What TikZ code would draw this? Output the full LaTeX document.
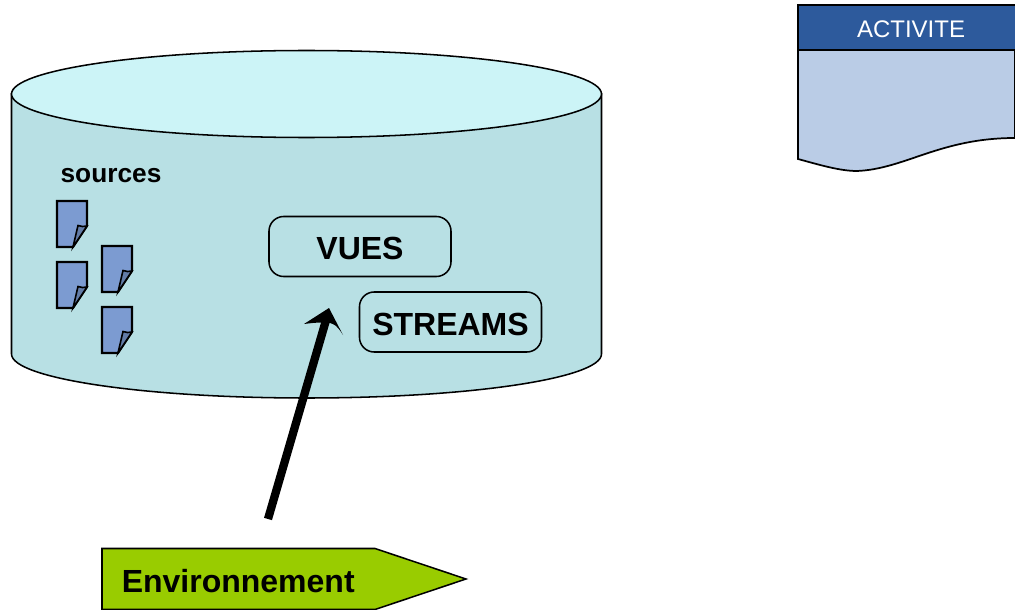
\documentclass[tikz,border=0pt]{standalone}
\usepackage{fontspec}
\setmainfont{Liberation Sans}
\begin{document}
\begin{tikzpicture}[x=0.75pt,y=-0.75pt,
  outline/.style={draw=black,line width=1.15pt},
  labelbox/.style={outline,fill=cylbody,rounded corners=11pt,font=\bfseries\fontsize{24}{28}\selectfont,inner sep=0pt,text=black,text height=20pt,text depth=0pt},
  pagefill/.style={outline,line width=1.6pt,fill=pageblue},
  pagefold/.style={outline,line width=1.2pt,fill=foldblue}]
\definecolor{cylbody}{RGB}{184,224,228}
\definecolor{cyltop}{RGB}{204,244,247}
\definecolor{pageblue}{RGB}{124,155,209}
\definecolor{foldblue}{RGB}{99,124,167}
\definecolor{headblue}{RGB}{45,90,156}
\definecolor{docblue}{RGB}{186,204,230}
\definecolor{envgreen}{RGB}{153,204,0}
\useasboundingbox (0,0) rectangle (1015,610);
\clip (0,0) rectangle (1015,610);
% cylinder
\path[outline,fill=cylbody] (11.5,94) -- (11.5,354) arc[start angle=180,end angle=360,x radius=295,y radius=-44] -- (601.5,94) -- cycle;
\path[outline,fill=cyltop] (306.5,94) ellipse[x radius=295,y radius=43.5];
\node[font=\bfseries\fontsize{19.7}{23}\selectfont] (sources) at (111,176) {sources};
% pages
\foreach \n/\px/\py in {a/57/201,b/57/262,c/102/246,d/102/307}{
  \begin{scope}[shift={(\px,\py)}]
    \path[pagefill] (0,0) -- (30,0) -- (30,25) -- (16,46) -- (0,46) -- cycle;
    \path[pagefold] (16,46) -- (21,24.5) .. controls (24,26) and (27,25.5) .. (30,25) -- cycle;
  \end{scope}
}
% boxes
\node[labelbox,minimum width=182pt*0.75,minimum height=60pt*0.75] (vues) at (360,246.5) {VUES};
\node[labelbox,minimum width=182pt*0.75,minimum height=60pt*0.75] (streams) at (450.5,322) {STREAMS};
% arrow
\coordinate (tail) at (268,519);
\coordinate (neck) at (325.5,322);
\coordinate (tip) at (329,308);
\draw[line width=6.2pt,black] (tail) -- (neck);
\fill[black] (tip) -- (343,335) .. controls (337,325) and (332,322) .. (326,323) .. controls (320,322) and (312,323) .. (304,324) -- cycle;
% environment
\path[outline,fill=envgreen] (102,548.5) -- (375,548.5) -- (466,579) -- (375,609.5) -- (102,609.5) -- cycle;
\node[anchor=west,font=\bfseries\fontsize{24}{28}\selectfont,inner sep=0pt] (env) at (121.5,581) {Environnement};
% activity document
\path[outline,line width=1.3pt,fill=docblue] (798,50) -- (798,159) .. controls (820,165) and (840,171) .. (857,171) .. controls (905,169) and (940,138) .. (1015,138) -- (1015,50) -- cycle;
\path[outline,line width=1.3pt,fill=headblue] (798,50) -- (798,5) -- (1017,5) -- (1017,50) -- cycle;
\node[text=white,font=\fontsize{18}{22}\selectfont] (act) at (911,29.2) {ACTIVITE};
\end{tikzpicture}
\end{document}
